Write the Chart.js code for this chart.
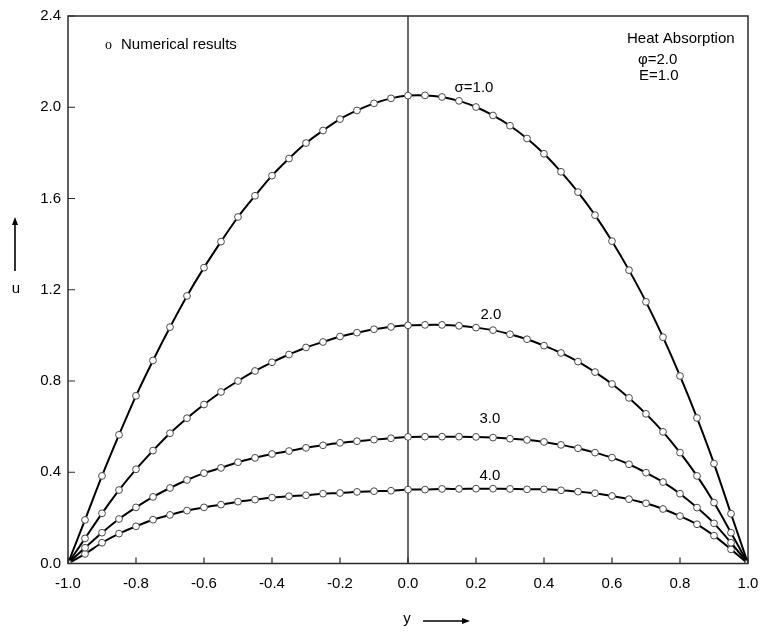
<!DOCTYPE html>
<html>
<head>
<meta charset="utf-8">
<script src="https://cdn.jsdelivr.net/npm/chart.js@4/dist/chart.umd.min.js"></script>
<style>
  html, body { margin: 0; padding: 0; background: #ffffff; }
  #wrap { width: 762px; height: 632px; }
</style>
</head>
<body>
<div id="wrap"><canvas id="c" width="762" height="632"></canvas></div>
<script>
// Cross-channel coordinate y and velocity profiles u(y) for several sigma values
const yCoord = [-1.0, -0.95, -0.9, -0.85, -0.8, -0.75, -0.7, -0.65, -0.6, -0.55, -0.5,
  -0.45, -0.4, -0.35, -0.3, -0.25, -0.2, -0.15, -0.1, -0.05, 0.0,
  0.05, 0.1, 0.15, 0.2, 0.25, 0.3, 0.35, 0.4, 0.45, 0.5,
  0.55, 0.6, 0.65, 0.7, 0.75, 0.8, 0.85, 0.9, 0.95, 1.0];

const uSigma1 = [0, 0.191, 0.384, 0.564, 0.735, 0.890, 1.036, 1.173, 1.297, 1.411, 1.519,
  1.612, 1.700, 1.775, 1.843, 1.898, 1.948, 1.986, 2.017, 2.039, 2.051,
  2.052, 2.045, 2.028, 2.001, 1.964, 1.919, 1.863, 1.796, 1.717, 1.628,
  1.527, 1.413, 1.286, 1.147, 0.992, 0.822, 0.638, 0.438, 0.218, 0];

const uSigma2 = [0, 0.110, 0.220, 0.322, 0.413, 0.495, 0.571, 0.637, 0.697, 0.752, 0.800,
  0.844, 0.882, 0.916, 0.947, 0.971, 0.995, 1.012, 1.027, 1.037, 1.044,
  1.046, 1.046, 1.042, 1.034, 1.023, 1.005, 0.983, 0.955, 0.923, 0.885,
  0.839, 0.787, 0.726, 0.656, 0.577, 0.486, 0.384, 0.267, 0.135, 0];

const uSigma3 = [0, 0.069, 0.135, 0.195, 0.246, 0.292, 0.331, 0.366, 0.396, 0.419, 0.444,
  0.463, 0.480, 0.493, 0.507, 0.518, 0.529, 0.536, 0.543, 0.549, 0.555,
  0.556, 0.556, 0.556, 0.555, 0.552, 0.547, 0.542, 0.533, 0.520, 0.505,
  0.486, 0.464, 0.435, 0.398, 0.357, 0.306, 0.245, 0.176, 0.091, 0];

const uSigma4 = [0, 0.042, 0.091, 0.131, 0.163, 0.192, 0.213, 0.232, 0.246, 0.258, 0.271,
  0.280, 0.289, 0.295, 0.299, 0.306, 0.309, 0.314, 0.317, 0.319, 0.324,
  0.324, 0.327, 0.327, 0.328, 0.328, 0.327, 0.325, 0.325, 0.321, 0.315,
  0.308, 0.296, 0.282, 0.264, 0.239, 0.208, 0.172, 0.122, 0.062, 0];

const seriesNames = ['σ=1.0', '2.0', '3.0', '4.0'];
const seriesValues = [uSigma1, uSigma2, uSigma3, uSigma4];

const xTicks = [-1.0, -0.8, -0.6, -0.4, -0.2, 0.0, 0.2, 0.4, 0.6, 0.8, 1.0];
const yTicks = [0.0, 0.4, 0.8, 1.2, 1.6, 2.0, 2.4];

// Curve labels placed in data coordinates (left edge, baseline)
const curveLabelAnchors = [
  { text: 'σ=1.0', x: 0.137, y: 2.065 },
  { text: '2.0',   x: 0.213, y: 1.071 },
  { text: '3.0',   x: 0.210, y: 0.615 },
  { text: '4.0',   x: 0.210, y: 0.366 }
];

const FONT = "'Liberation Sans', Arial, Helvetica, sans-serif";
const FONT_SIZE = 15;

const datasets = seriesValues.map((vals, i) => ({
  label: seriesNames[i],
  data: yCoord.map((x, k) => ({ x: x, y: vals[k] })),
  showLine: true,
  borderColor: '#000000',
  borderWidth: 2,
  tension: 0.3,
  pointRadius: 3.4,
  pointBorderWidth: 1,
  pointBorderColor: '#4a4a4a',
  pointBackgroundColor: '#ffffff'
}));

function arrow(ctx, x1, y1, x2, y2) {
  const ang = Math.atan2(y2 - y1, x2 - x1);
  const len = 8, half = 3;
  ctx.beginPath();
  ctx.moveTo(x1, y1);
  ctx.lineTo(x2 - Math.cos(ang) * len * 0.6, y2 - Math.sin(ang) * len * 0.6);
  ctx.stroke();
  ctx.beginPath();
  ctx.moveTo(x2, y2);
  ctx.lineTo(x2 - Math.cos(ang) * len - Math.sin(ang) * half, y2 - Math.sin(ang) * len + Math.cos(ang) * half);
  ctx.lineTo(x2 - Math.cos(ang) * len + Math.sin(ang) * half, y2 - Math.sin(ang) * len - Math.cos(ang) * half);
  ctx.closePath();
  ctx.fill();
}

const framePlugin = {
  id: 'frame',
  beforeDatasetsDraw(chart) {
    const { ctx, chartArea: a, scales } = chart;
    ctx.save();
    ctx.strokeStyle = '#2a2a2a';
    ctx.lineWidth = 1.4;
    // vertical line at y = 0
    const x0 = scales.x.getPixelForValue(0);
    ctx.beginPath();
    ctx.moveTo(x0, a.top);
    ctx.lineTo(x0, a.bottom);
    ctx.stroke();
    ctx.restore();
  },
  afterDraw(chart) {
    const { ctx, chartArea: a, scales } = chart;
    ctx.save();
    ctx.strokeStyle = '#2a2a2a';
    ctx.lineWidth = 1.5;
    ctx.strokeRect(a.left, a.top, a.right - a.left, a.bottom - a.top);
    // inward tick marks on left and bottom axes
    ctx.lineWidth = 1.2;
    ctx.beginPath();
    yTicks.forEach(v => {
      const py = scales.y.getPixelForValue(v);
      ctx.moveTo(a.left, py);
      ctx.lineTo(a.left + 7, py);
    });
    xTicks.forEach(v => {
      const px = scales.x.getPixelForValue(v);
      ctx.moveTo(px, a.bottom);
      ctx.lineTo(px, a.bottom - 6);
    });
    ctx.stroke();

    ctx.fillStyle = '#000000';
    ctx.textBaseline = 'alphabetic';
    ctx.textAlign = 'left';

    // curve labels
    ctx.font = FONT_SIZE + 'px ' + FONT;
    curveLabelAnchors.forEach(l => {
      ctx.fillText(l.text, scales.x.getPixelForValue(l.x), scales.y.getPixelForValue(l.y));
    });

    // legend entry
    ctx.font = '14px "Liberation Serif", "Times New Roman", serif';
    ctx.fillText('o', a.left + 37, a.top + 33);
    ctx.font = FONT_SIZE + 'px ' + FONT;
    ctx.fillText('Numerical results', a.left + 53, a.top + 33);

    // parameter block
    ctx.fillText('Heat Absorption', a.left + 559, a.top + 26.5);
    ctx.fillText('φ=2.0', a.left + 570, a.top + 47.5);
    ctx.fillText('E=1.0', a.left + 571, a.top + 63.5);

    // axis titles with arrows
    ctx.textAlign = 'center';
    ctx.fillText('u', 16, 293);
    ctx.fillText('y', 407, 623);
    ctx.strokeStyle = '#000000';
    ctx.fillStyle = '#000000';
    ctx.lineWidth = 1.6;
    arrow(ctx, 15, 271, 15, 217);
    arrow(ctx, 423, 621, 470, 621);
    ctx.restore();
  }
};

new Chart(document.getElementById('c'), {
  type: 'scatter',
  data: { datasets: datasets },
  plugins: [framePlugin],
  options: {
    responsive: false,
    animation: false,
    devicePixelRatio: 1,
    layout: { padding: { top: 16, right: 14, left: 0, bottom: 0 } },
    plugins: { legend: { display: false }, tooltip: { enabled: false } },
    scales: {
      x: {
        type: 'linear',
        min: -1, max: 1,
        afterBuildTicks(scale) { scale.ticks = xTicks.map(v => ({ value: v })); },
        afterFit(scale) {
          scale.height = 68.5;
          scale.paddingLeft = 0;
          scale.paddingRight = 0;
        },
        grid: { display: false, drawTicks: false, tickLength: 0 },
        border: { display: false },
        ticks: {
          color: '#000000',
          font: { size: FONT_SIZE, family: FONT },
          padding: 11,
          maxRotation: 0,
          callback: v => Number(v).toFixed(1)
        }
      },
      y: {
        type: 'linear',
        min: 0, max: 2.4,
        afterBuildTicks(scale) { scale.ticks = yTicks.map(v => ({ value: v })); },
        afterFit(scale) {
          scale.width = 68;
          scale.paddingTop = 0;
          scale.paddingBottom = 0;
        },
        grid: { display: false, drawTicks: false, tickLength: 0 },
        border: { display: false },
        ticks: {
          color: '#000000',
          font: { size: FONT_SIZE, family: FONT },
          padding: 7,
          callback: v => Number(v).toFixed(1)
        }
      }
    }
  }
});
</script>
</body>
</html>
